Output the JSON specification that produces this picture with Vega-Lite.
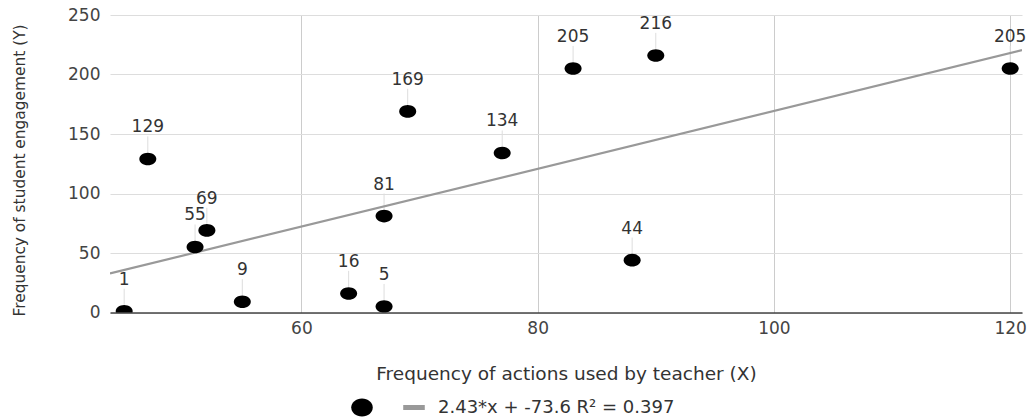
{
  "$schema": "https://vega.github.io/schema/vega-lite/v6.json",
  "width": 912,
  "height": 297.5,
  "autosize": {"type": "none"},
  "padding": {"left": 110, "top": 15, "right": 9, "bottom": 106.5},
  "background": "white",
  "config": {
    "view": {"stroke": null},
    "font": "DejaVu Sans"
  },
  "datasets": {
    "pts": [
      {"x": 45, "y": 1, "series": "pts"},
      {"x": 47, "y": 129, "series": "pts"},
      {"x": 51, "y": 55, "series": "pts"},
      {"x": 52, "y": 69, "series": "pts"},
      {"x": 55, "y": 9, "series": "pts"},
      {"x": 64, "y": 16, "series": "pts"},
      {"x": 67, "y": 5, "series": "pts"},
      {"x": 67, "y": 81, "series": "pts"},
      {"x": 69, "y": 169, "series": "pts"},
      {"x": 77, "y": 134, "series": "pts"},
      {"x": 83, "y": 205, "series": "pts"},
      {"x": 88, "y": 44, "series": "pts"},
      {"x": 90, "y": 216, "series": "pts"},
      {"x": 120, "y": 205, "series": "pts"}
    ],
    "trend": [
      {"x": 43.8, "y": 32.83, "series": "trend"},
      {"x": 121, "y": 220.43, "series": "trend"}
    ]
  },
  "encoding": {
    "x": {
      "field": "x", "type": "quantitative",
      "scale": {"domain": [43.8, 121], "nice": false, "zero": false},
      "axis": {
        "values": [60, 80, 100, 120],
        "title": "Frequency of actions used by teacher (X)",
        "titleFont": "DejaVu Sans", "titleFontSize": 18.5, "titleFontWeight": "normal", "titleColor": "#333",
        "titleBaseline": "middle", "titleY": 61, "titleAnchor": "middle",
        "labelFont": "DejaVu Sans", "labelFontSize": 17, "labelColor": "#444",
        "labelBaseline": "middle", "labelPadding": 15.5,
        "ticks": false,
        "domainColor": "#444", "domainWidth": 1.5,
        "grid": true, "gridColor": "#ccc", "gridWidth": 1
      }
    },
    "y": {
      "field": "y", "type": "quantitative",
      "scale": {"domain": [0, 250], "nice": false},
      "axis": {
        "values": [0, 50, 100, 150, 200, 250],
        "title": "Frequency of student engagement (Y)",
        "titleFont": "DejaVu Sans", "titleFontSize": 15.4, "titleFontWeight": "normal", "titleColor": "#333",
        "titleAngle": -90, "titleBaseline": "middle", "titleX": -91, "titleY": 155, "titleAlign": "center",
        "labelFont": "DejaVu Sans", "labelFontSize": 17, "labelColor": "#444",
        "labelPadding": 10,
        "ticks": false, "domain": false,
        "grid": true, "gridColor": "#ddd", "gridWidth": 1
      }
    }
  },
  "layer": [
    {
      "data": {"name": "pts"},
      "mark": {"type": "rule", "color": "#ddd", "strokeWidth": 1, "yOffset": -22.6, "y2Offset": -6.6},
      "encoding": {"y2": {"field": "y"}}
    },
    {
      "data": {"name": "trend"},
      "mark": {"type": "line", "strokeWidth": 2.2, "clip": true},
      "encoding": {
        "color": {
          "field": "series", "type": "nominal",
          "scale": {"domain": ["pts", "trend"], "range": ["black", "#999"]},
          "legend": {
            "orient": "none", "direction": "horizontal",
            "legendX": 241, "legendY": 381,
            "title": null, "padding": 0,
            "symbolSize": 484, "symbolStrokeWidth": 0,
            "labelExpr": "datum.value == 'trend' ? '2.43*x + -73.6 R² = 0.397' : ''",
            "labelFont": "DejaVu Sans", "labelFontSize": 18, "labelColor": "#333",
            "labelLimit": 0,
            "labelOffset": 13, "columnPadding": 17,
            "encode": {
              "symbols": {
                "update": {
                  "shape": {"signal": "datum.value == 'trend' ? 'M-0.98,-0.23H0.98V0.23H-0.98Z' : 'M-0.98,0A0.98,0.82,0,1,0,0.98,0A0.98,0.82,0,1,0,-0.98,0Z'"},
                  "fill": {"signal": "datum.value == 'trend' ? '#999' : 'black'"},
                  "fillOpacity": {"value": 1},
                  "strokeWidth": {"value": 0}
                }
              }
            }
          }
        }
      }
    },
    {
      "data": {"name": "pts"},
      "mark": {
        "type": "point", "filled": true, "opacity": 1, "clip": true,
        "shape": "M-1,0A1,0.74,0,1,0,1,0A1,0.74,0,1,0,-1,0Z",
        "size": 289
      },
      "encoding": {
        "color": {"field": "series", "type": "nominal"}
      }
    },
    {
      "data": {"name": "pts"},
      "mark": {"type": "text", "dy": -31.6, "baseline": "middle", "align": "center", "fontSize": 17, "font": "DejaVu Sans", "color": "#333"},
      "encoding": {"text": {"field": "y", "type": "quantitative"}}
    }
  ]
}
